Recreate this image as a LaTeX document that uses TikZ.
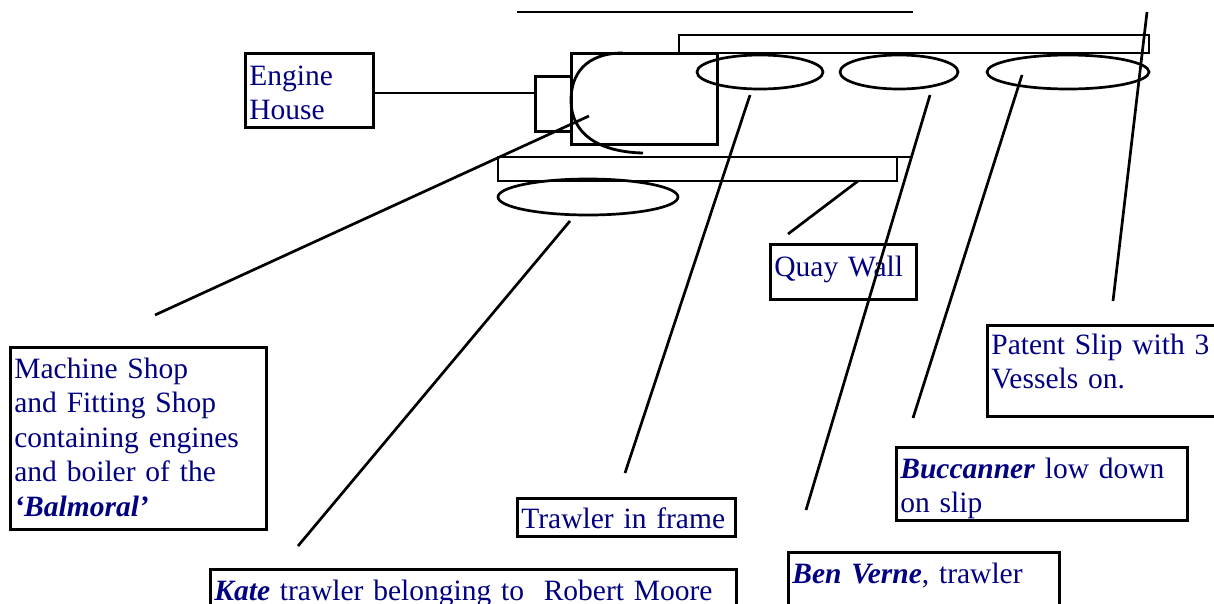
\documentclass[tikz,border=0pt]{standalone}
\usepackage{fontspec}
\setmainfont{Liberation Serif}
\usepackage{tikz}
\definecolor{navy}{RGB}{0,0,128}
\tikzstyle{labelbox} = [draw=black, line width=2.8pt, rectangle, anchor=north west,
    align=left, inner xsep=4pt, inner ysep=0pt, text=navy,
    font=\fontsize{29.5}{34.5}\selectfont]
\tikzstyle{plan} = [draw=black, line width=2.8pt]
\tikzstyle{hull} = [draw=black, line width=2.7pt]
\tikzstyle{leader} = [draw=black, line width=2.7pt]

\begin{document}
\begin{tikzpicture}[x=1pt,y=-1pt]
                \useasboundingbox (0,0) rectangle (1214,603);
                \clip (0,0) rectangle (1214,603);
                % yard plan
                \draw[plan] (517,12) -- (913,12);
                \draw[plan] (679,35) rectangle (1149,53);
                \draw[hull] (760,72) ellipse [x radius=63, y radius=17];
                \draw[hull] (899,72) ellipse [x radius=59, y radius=17];
                \draw[hull] (1068,72) ellipse [x radius=81, y radius=17];
                \node[plan, minimum width=146pt, minimum height=91pt, anchor=north west, inner sep=0pt] (shop) at (570,52) {};
                \node[plan, minimum width=36pt, minimum height=55pt, anchor=north west, inner sep=0pt] (enginebox) at (534,75) {};
                \draw[plan] (623,53) .. controls (585,53) and (571,75) .. (571,100)
                    .. controls (571,135) and (600,152) .. (643,153);
                \draw[plan] (498,157) rectangle (897,181);
                \draw[plan] (897,157) -- (912,157);
                \draw[hull] (588,197) ellipse [x radius=90, y radius=18];
                % labels
                \node[labelbox, text width=120pt, text height=32pt, text depth=42pt] (engine) at (244,52) {Engine\\House};
                \node[labelbox, text width=248pt, text height=31pt, text depth=151pt] (machine) at (9,346)
                    {Machine Shop\\and Fitting Shop\\containing engines\\and boiler of the\\\textbf{\textit{‘Balmoral’}}};
                \node[labelbox, text width=138pt, text height=32pt, text depth=23pt] (quay) at (769,243) {Quay Wall};
                \node[labelbox, text width=210pt, text height=30pt, text depth=8pt] (frame) at (516,497) {Trawler in frame};
                \node[labelbox, text width=242pt, text height=29pt, text depth=62pt] (patent) at (986,324) {Patent Slip with 3\\Vessels on.};
                \node[labelbox, text width=283pt, text height=31pt, text depth=42pt] (bucc) at (895,446) {\textbf{\textit{Buccanner}} low down\\on slip};
                \node[labelbox, text width=518pt, text height=31pt, text depth=20pt] (kate) at (209,568) {\textbf{\textit{Kate}} trawler belonging to~ Robert Moore};
                \node[labelbox, text width=263pt, text height=31pt, text depth=40pt] (benverne) at (787,551) {\textbf{\textit{Ben Verne}}, trawler};
                % leader lines
                \coordinate (engineIn) at (372,93);
                \coordinate (engineOut) at (534,93);
                \coordinate (shopTip) at (589,116);
                \coordinate (shopEnd) at (155,315);
                \coordinate (kateTip) at (570,221);
                \coordinate (kateEnd) at (298,546);
                \coordinate (frameTip) at (750,95);
                \coordinate (frameEnd) at (625,473);
                \coordinate (quayTip) at (858,181);
                \coordinate (quayEnd) at (788,234);
                \coordinate (benTip) at (930,95);
                \coordinate (benEnd) at (806,510);
                \coordinate (buccTip) at (1022,75);
                \coordinate (buccEnd) at (913,418);
                \coordinate (patentTip) at (1147,12);
                \coordinate (patentEnd) at (1113,301);
                \draw[leader] (engineIn) -- (engineOut);
                \draw[leader] (shopTip) -- (shopEnd);
                \draw[leader] (kateTip) -- (kateEnd);
                \draw[leader] (frameTip) -- (frameEnd);
                \draw[leader] (quayTip) -- (quayEnd);
                \draw[leader] (benTip) -- (benEnd);
                \draw[leader] (buccTip) -- (buccEnd);
                \draw[leader] (patentTip) -- (patentEnd);
            \end{tikzpicture}
\end{document}
